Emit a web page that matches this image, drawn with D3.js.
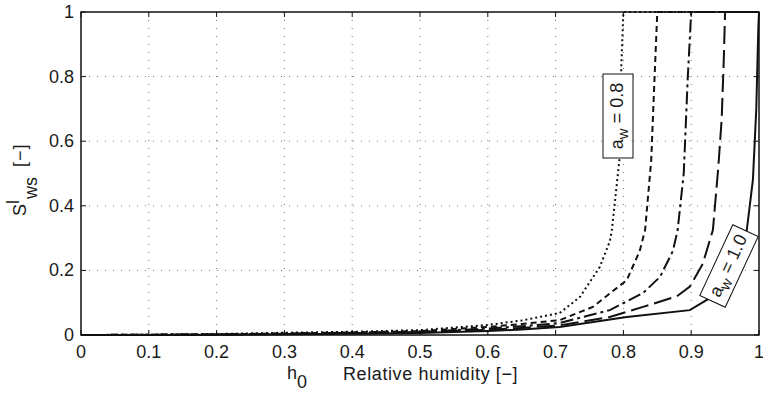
<!DOCTYPE html>
<html lang="en">
<head>
<meta charset="UTF-8">
<title>Relative humidity vs S_ws</title>
<style>
  body { margin: 0; background: #fff; }
  text { font-family: "Liberation Sans", Arial, sans-serif; fill: #1a1a1a; }
</style>
</head>
<body>
<div id="chart"></div>
<script src="https://d3js.org/d3.v7.min.js"></script>
<script>
// data, one pair of arrays per a_w curve
const h08 = [0, 0.1, 0.2, 0.3, 0.4, 0.5, 0.6, 0.65, 0.706, 0.736, 0.765, 0.78, 0.783, 0.794, 0.797, 0.8, 1];
const s08 = [0, 0.001, 0.003, 0.007, 0.01, 0.015, 0.031, 0.045, 0.068, 0.118, 0.21, 0.29, 0.325, 0.54, 0.84, 1, 1];

const h085 = [0, 0.1, 0.2, 0.3, 0.4, 0.5, 0.6, 0.65, 0.706, 0.755, 0.805, 0.824, 0.832, 0.841, 0.846, 0.85, 1];
const s085 = [0, 0.001, 0.002, 0.005, 0.008, 0.012, 0.025, 0.034, 0.046, 0.087, 0.17, 0.26, 0.325, 0.54, 0.8, 1, 1];

const h09 = [0, 0.1, 0.2, 0.3, 0.4, 0.5, 0.6, 0.65, 0.706, 0.78, 0.829, 0.854, 0.873, 0.88, 0.889, 0.895, 0.9, 1];
const s09 = [0, 0.001, 0.002, 0.004, 0.007, 0.01, 0.02, 0.027, 0.037, 0.077, 0.13, 0.18, 0.26, 0.325, 0.5, 0.8, 1, 1];

const h095 = [0, 0.1, 0.2, 0.3, 0.4, 0.5, 0.6, 0.65, 0.706, 0.78, 0.829, 0.879, 0.898, 0.917, 0.932, 0.94, 0.945, 0.948, 0.95, 1];
const s095 = [0, 0, 0.001, 0.003, 0.006, 0.009, 0.016, 0.022, 0.03, 0.056, 0.087, 0.12, 0.15, 0.22, 0.325, 0.52, 0.67, 0.85, 1, 1];

const h10 = [0, 0.1, 0.2, 0.3, 0.4, 0.5, 0.6, 0.65, 0.706, 0.805, 0.898, 0.928, 0.955, 0.972, 0.982, 0.991, 0.996, 0.999, 1];
const s10 = [0, 0, 0.001, 0.002, 0.004, 0.006, 0.012, 0.017, 0.025, 0.056, 0.077, 0.115, 0.17, 0.22, 0.325, 0.48, 0.7, 0.95, 1];

const xTicks = [0, 0.1, 0.2, 0.3, 0.4, 0.5, 0.6, 0.7, 0.8, 0.9, 1];
const yTicks = [0, 0.2, 0.4, 0.6, 0.8, 1];

const series = [
    { h: h08, s: s08, dash: "2,3" },
    { h: h085, s: s085, dash: "6,4" },
    { h: h09, s: s09, dash: "13,4,3,4" },
    { h: h095, s: s095, dash: "18,6" },
    { h: h10, s: s10, dash: null }
];

const W = 763, H = 394;
const pLeft = 81, pRight = 759, pTop = 12, pBottom = 335;
const fs = "18px";

const svg = d3.select("#chart").append("svg")
    .attr("width", W)
    .attr("height", H);

const x = d3.scaleLinear().domain([0, 1]).range([pLeft, pRight]);
const y = d3.scaleLinear().domain([0, 1]).range([pBottom, pTop]);

// grid
svg.append("g").selectAll("line")
    .data(xTicks.filter(d => d > 0 && d < 1))
    .join("line")
    .attr("x1", d => x(d)).attr("x2", d => x(d))
    .attr("y1", pTop).attr("y2", pBottom)
    .attr("stroke", "#777").attr("stroke-width", 1)
    .attr("stroke-dasharray", "1,7");

svg.append("g").selectAll("line")
    .data(yTicks.filter(d => d > 0 && d < 1))
    .join("line")
    .attr("x1", pLeft).attr("x2", pRight)
    .attr("y1", d => y(d)).attr("y2", d => y(d))
    .attr("stroke", "#777").attr("stroke-width", 1)
    .attr("stroke-dasharray", "1,7");

// inner ticks, all four sides
const tk = 5;
const tg = svg.append("g").attr("stroke", "#111").attr("stroke-width", 1);
xTicks.forEach(d => {
    tg.append("line").attr("x1", x(d)).attr("x2", x(d)).attr("y1", pBottom).attr("y2", pBottom - tk);
    tg.append("line").attr("x1", x(d)).attr("x2", x(d)).attr("y1", pTop).attr("y2", pTop + tk);
});
yTicks.forEach(d => {
    tg.append("line").attr("x1", pLeft).attr("x2", pLeft + tk).attr("y1", y(d)).attr("y2", y(d));
    tg.append("line").attr("x1", pRight).attr("x2", pRight - tk).attr("y1", y(d)).attr("y2", y(d));
});

// tick labels
svg.append("g").selectAll("text")
    .data(xTicks)
    .join("text")
    .attr("x", d => x(d))
    .attr("y", 358)
    .attr("text-anchor", "middle")
    .style("font-size", fs)
    .text(d => d3.format("~g")(d));

svg.append("g").selectAll("text")
    .data(yTicks)
    .join("text")
    .attr("x", 74)
    .attr("y", d => y(d) + 6)
    .attr("text-anchor", "end")
    .style("font-size", fs)
    .text(d => d3.format("~g")(d));

// curves
const line = d3.line().x(d => x(d[0])).y(d => y(d[1]));
series.forEach(sr => {
    const pts = sr.h.map((v, i) => [v, sr.s[i]]);
    svg.append("path")
        .datum(pts)
        .attr("d", line)
        .attr("fill", "none")
        .attr("stroke", "#111")
        .attr("stroke-width", 2)
        .attr("stroke-dasharray", sr.dash);
});

// frame
svg.append("rect")
    .attr("x", pLeft).attr("y", pTop)
    .attr("width", pRight - pLeft).attr("height", pBottom - pTop)
    .attr("fill", "none").attr("stroke", "#111").attr("stroke-width", 1.5);

// curve labels
function awLabel(cx, cy, angle, w, h, val) {
    const g = svg.append("g").attr("transform", `translate(${cx},${cy}) rotate(${angle})`);
    g.append("rect")
        .attr("x", -w / 2).attr("y", -h / 2)
        .attr("width", w).attr("height", h)
        .attr("fill", "#fff").attr("stroke", "#111").attr("stroke-width", 1);
    const t = g.append("text")
        .attr("x", 0).attr("y", 5)
        .attr("text-anchor", "middle")
        .style("font-size", fs);
    t.append("tspan").text("a");
    t.append("tspan").attr("dy", 5).style("font-size", "15px").text("w");
    t.append("tspan").attr("dy", -5).text(" = " + val);
}
awLabel(618, 116, -90, 84, 30, "0.8");
awLabel(729, 266, -65, 78, 28, "1.0");

// axis titles
const xt = svg.append("text").attr("x", 287).attr("y", 379).style("font-size", fs);
xt.append("tspan").text("h");
xt.append("tspan").attr("dy", 9).text("0");
svg.append("text")
    .attr("x", 343).attr("y", 380)
    .style("font-size", fs)
    .style("letter-spacing", "0.6px")
    .text("Relative humidity [\u2212]");

const yt = svg.append("text")
    .attr("transform", "translate(26,216) rotate(-90)")
    .style("font-size", fs);
yt.append("tspan").text("S");
yt.append("tspan").attr("dy", -7).text("l");
yt.append("tspan").attr("dy", 18).attr("dx", 1).text("ws");
yt.append("tspan").attr("dy", -11).attr("dx", 4).style("letter-spacing", "1px").text(" [\u2212]");
</script>
</body>
</html>
